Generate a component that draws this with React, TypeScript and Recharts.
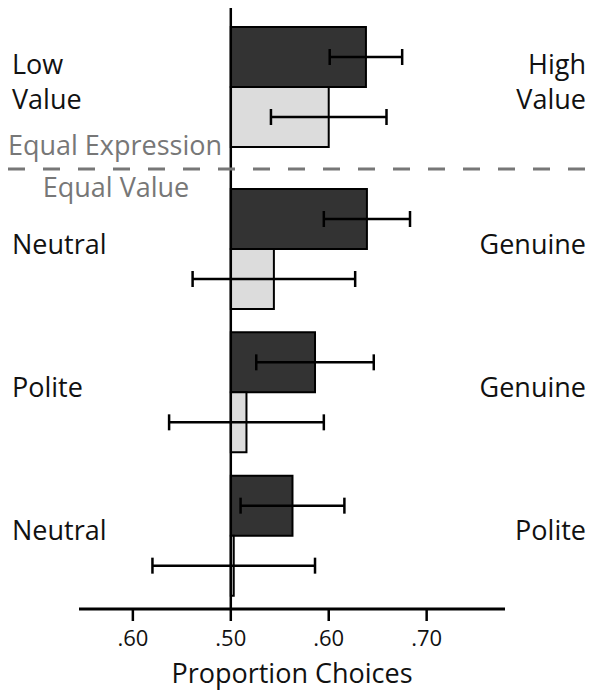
import { BarChart, Bar, XAxis, YAxis, ErrorBar, ReferenceLine } from "recharts";

// row labels, read top to bottom
const leftLabels = ["Low\nValue", "Neutral", "Polite", "Neutral"];
const rightLabels = ["High\nValue", "Genuine", "Genuine", "Polite"];

// proportion choices (dark = first option, light = second)
const darkValues = [0.638, 0.639, 0.586, 0.563];
const darkErrors = [0.037, 0.044, 0.06, 0.053];
const lightValues = [0.6, 0.544, 0.516, 0.503];
const lightErrors = [0.059, 0.083, 0.079, 0.083];

const xTicks = [0.4, 0.5, 0.6, 0.7];

// bars grow from .50, so plot the distance from chance
const rows = leftLabels.map((_, i) => ({
  key: String(i),
  dark: darkValues[i] - 0.5,
  darkErr: darkErrors[i],
  light: lightValues[i] - 0.5,
  lightErr: lightErrors[i],
}));

const domain: [number, number] = [-0.155, 0.28];
const fmt = (v: number) => "." + Math.round((0.5 + Math.abs(v)) * 100);

const LeftTick = ({ y, payload }: any) => {
  const lines = leftLabels[Number(payload.value)].split("\n");
  return (
    <text x={12} y={y} textAnchor="start" fontSize={27} fill="#111">
      {lines.map((l, i) => (
        <tspan key={i} x={12} y={y + 5 + (i - (lines.length - 1) / 2) * 35}>
          {l}
        </tspan>
      ))}
    </text>
  );
};

const RightTick = ({ y, payload }: any) => {
  const lines = rightLabels[Number(payload.value)].split("\n");
  return (
    <text x={586} y={y} textAnchor="end" fontSize={27} fill="#111">
      {lines.map((l, i) => (
        <tspan key={i} x={586} y={y + 5 + (i - (lines.length - 1) / 2) * 35}>
          {l}
        </tspan>
      ))}
    </text>
  );
};

function Panel({ data, top, height, showX, padTop, padBottom }: any) {
  return (
    <div style={{ position: "absolute", left: 0, top }}>
      <BarChart
        width={606}
        height={height}
        data={data}
        layout="vertical"
        barGap={0}
        margin={{ top: showX ? 0 : 8, right: 0, bottom: 0, left: 0 }}
      >
        <XAxis
          type="number"
          domain={domain}
          ticks={xTicks.map((t) => t - 0.5)}
          tickFormatter={fmt}
          hide={!showX}
          height={90}
          allowDataOverflow
          axisLine={{ stroke: "#000", strokeWidth: 3 }}
          tickLine={{ stroke: "#000", strokeWidth: 2.5 }}
          tickSize={12}
          tickMargin={9}
          tick={{ fontSize: 22, fill: "#111" }}
          label={{ value: "Proportion Choices", position: "insideBottom", offset: 16, fontSize: 27, fill: "#111" }}
        />
        <YAxis
          yAxisId="left"
          type="category"
          dataKey="key"
          width={79}
          axisLine={false}
          tickLine={false}
          tick={<LeftTick />}
          padding={{ top: padTop, bottom: padBottom }}
        />
        <YAxis
          yAxisId="right"
          orientation="right"
          type="category"
          dataKey="key"
          width={101}
          axisLine={false}
          tickLine={false}
          tick={<RightTick />}
          padding={{ top: padTop, bottom: padBottom }}
        />
        <Bar yAxisId="left" dataKey="dark" barSize={60} fill="#333" stroke="#000" strokeWidth={2} isAnimationActive={false}>
          <ErrorBar dataKey="darkErr" direction="x" width={8} stroke="#000" strokeWidth={2.5} />
        </Bar>
        <Bar yAxisId="left" dataKey="light" barSize={60} fill="#dcdcdc" stroke="#000" strokeWidth={2} isAnimationActive={false}>
          <ErrorBar dataKey="lightErr" direction="x" width={8} stroke="#000" strokeWidth={2.5} />
        </Bar>
        <ReferenceLine yAxisId="left" x={0} stroke="#000" strokeWidth={2.5} />
      </BarChart>
    </div>
  );
}

export default function App() {
  return (
    <div
      style={{
        position: "absolute",
        left: 0,
        top: 0,
        width: 606,
        height: 699,
        background: "#fff",
        fontFamily: "'Open Sans', sans-serif",
      }}
    >
      <Panel data={rows.slice(0, 1)} top={0} height={165} showX={false} padTop={0} padBottom={0} />
      <Panel data={rows.slice(1)} top={165} height={534} showX padTop={12} padBottom={2} />
      <svg width={606} height={699} style={{ position: "absolute", left: 0, top: 0, pointerEvents: "none" }}>
        <line x1={8} x2={600} y1={169} y2={169} stroke="#777" strokeWidth={3} strokeDasharray="17 18" />
        <text x={115} y={155} textAnchor="middle" fontSize={27} fill="#777">
          Equal Expression
        </text>
        <text x={116} y={197} textAnchor="middle" fontSize={27} fill="#777">
          Equal Value
        </text>
      </svg>
    </div>
  );
}
